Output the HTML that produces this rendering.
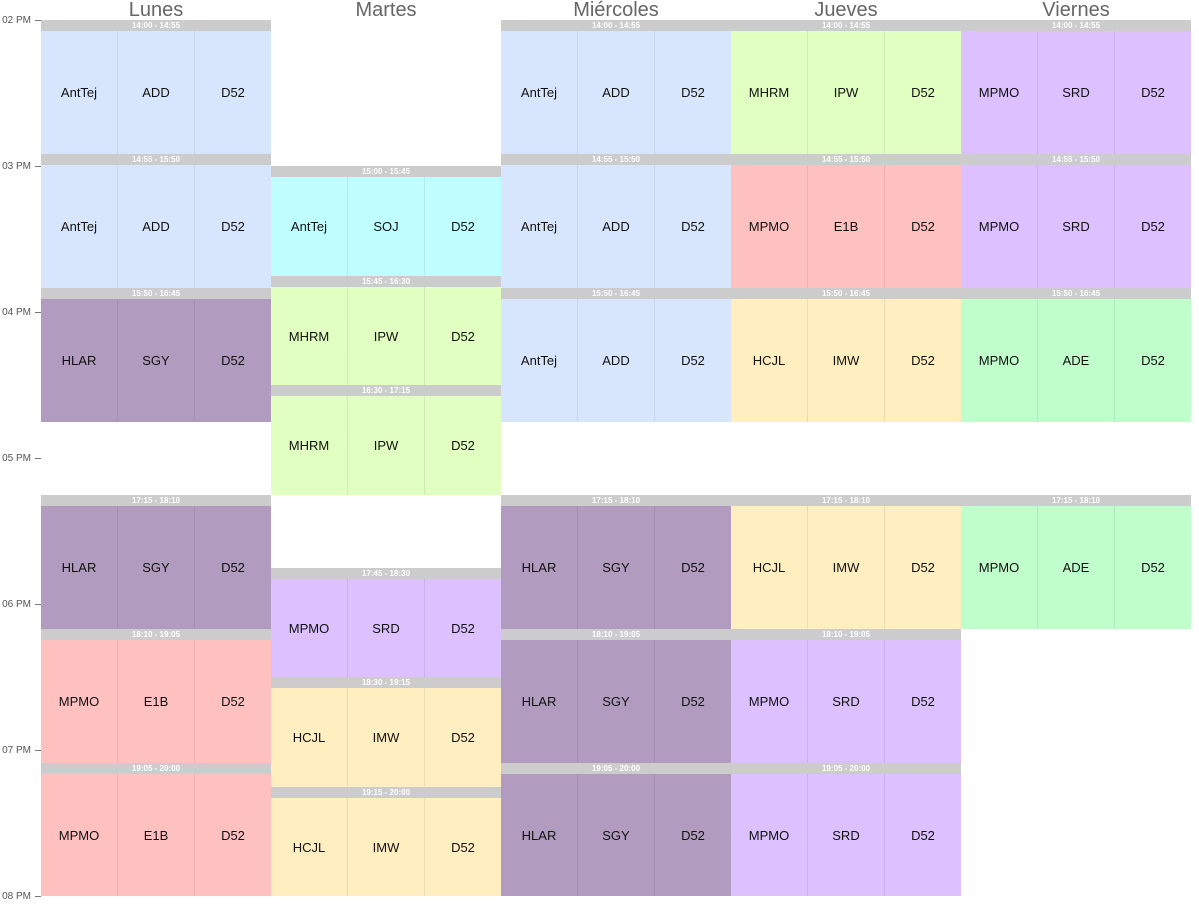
<!DOCTYPE html>
<html><head><meta charset="utf-8"><style>
body{margin:0;width:1199px;height:912px;background:#fff;position:relative;overflow:hidden;font-family:"Liberation Sans",Arial,sans-serif}
.d{position:absolute;top:-1px;width:230px;text-align:center;font-size:20px;color:#666;line-height:22px}
.t{position:absolute;left:0;width:31px;text-align:right;font-size:10px;color:#555;line-height:12px}
.k{position:absolute;left:35px;width:6px;height:1px;background:#777}
.b{position:absolute;width:230px;display:flex;flex-direction:column}
.h{height:11px;background:#ccc;color:#fff;font-size:8px;font-weight:bold;text-align:center;line-height:11px;flex:none}
.r{flex:1;display:flex}
.r div{flex:1;display:flex;align-items:center;justify-content:center;font-size:13px;color:#111;border-left:1px solid rgba(0,0,0,.08)}
.r div:first-child{border-left:none}
.bl .r{background:#d8e6fd}.cy .r{background:#c0ffff}.li .r{background:#e0ffc0}.pu .r{background:#dcc0ff}
.pk .r{background:#ffc0c0}.ma .r{background:#b19cbf}.ye .r{background:#ffeec0}.gr .r{background:#c0ffcc}
</style></head><body>
<div class="d" style="left:41px">Lunes</div><div class="d" style="left:271px">Martes</div><div class="d" style="left:501px">Miércoles</div><div class="d" style="left:731px">Jueves</div><div class="d" style="left:961px">Viernes</div>
<div class="t" style="top:15px">02 PM</div><div class="k" style="top:20px"></div>
<div class="t" style="top:161px">03 PM</div><div class="k" style="top:166px"></div>
<div class="t" style="top:307px">04 PM</div><div class="k" style="top:312px"></div>
<div class="t" style="top:453px">05 PM</div><div class="k" style="top:458px"></div>
<div class="t" style="top:599px">06 PM</div><div class="k" style="top:604px"></div>
<div class="t" style="top:745px">07 PM</div><div class="k" style="top:750px"></div>
<div class="t" style="top:891px">08 PM</div><div class="k" style="top:896px"></div>

<!-- Lunes -->
<div class="b bl" style="left:41px;top:20px;height:134px"><div class="h">14:00 - 14:55</div><div class="r"><div>AntTej</div><div>ADD</div><div>D52</div></div></div>
<div class="b bl" style="left:41px;top:154px;height:134px"><div class="h">14:55 - 15:50</div><div class="r"><div>AntTej</div><div>ADD</div><div>D52</div></div></div>
<div class="b ma" style="left:41px;top:288px;height:134px"><div class="h">15:50 - 16:45</div><div class="r"><div>HLAR</div><div>SGY</div><div>D52</div></div></div>
<div class="b ma" style="left:41px;top:495px;height:134px"><div class="h">17:15 - 18:10</div><div class="r"><div>HLAR</div><div>SGY</div><div>D52</div></div></div>
<div class="b pk" style="left:41px;top:629px;height:134px"><div class="h">18:10 - 19:05</div><div class="r"><div>MPMO</div><div>E1B</div><div>D52</div></div></div>
<div class="b pk" style="left:41px;top:763px;height:133px"><div class="h">19:05 - 20:00</div><div class="r"><div>MPMO</div><div>E1B</div><div>D52</div></div></div>
<!-- Martes -->
<div class="b cy" style="left:271px;top:166px;height:110px"><div class="h">15:00 - 15:45</div><div class="r"><div>AntTej</div><div>SOJ</div><div>D52</div></div></div>
<div class="b li" style="left:271px;top:276px;height:109px"><div class="h">15:45 - 16:30</div><div class="r"><div>MHRM</div><div>IPW</div><div>D52</div></div></div>
<div class="b li" style="left:271px;top:385px;height:110px"><div class="h">16:30 - 17:15</div><div class="r"><div>MHRM</div><div>IPW</div><div>D52</div></div></div>
<div class="b pu" style="left:271px;top:568px;height:109px"><div class="h">17:45 - 18:30</div><div class="r"><div>MPMO</div><div>SRD</div><div>D52</div></div></div>
<div class="b ye" style="left:271px;top:677px;height:110px"><div class="h">18:30 - 19:15</div><div class="r"><div>HCJL</div><div>IMW</div><div>D52</div></div></div>
<div class="b ye" style="left:271px;top:787px;height:109px"><div class="h">19:15 - 20:00</div><div class="r"><div>HCJL</div><div>IMW</div><div>D52</div></div></div>
<!-- Miércoles -->
<div class="b bl" style="left:501px;top:20px;height:134px"><div class="h">14:00 - 14:55</div><div class="r"><div>AntTej</div><div>ADD</div><div>D52</div></div></div>
<div class="b bl" style="left:501px;top:154px;height:134px"><div class="h">14:55 - 15:50</div><div class="r"><div>AntTej</div><div>ADD</div><div>D52</div></div></div>
<div class="b bl" style="left:501px;top:288px;height:134px"><div class="h">15:50 - 16:45</div><div class="r"><div>AntTej</div><div>ADD</div><div>D52</div></div></div>
<div class="b ma" style="left:501px;top:495px;height:134px"><div class="h">17:15 - 18:10</div><div class="r"><div>HLAR</div><div>SGY</div><div>D52</div></div></div>
<div class="b ma" style="left:501px;top:629px;height:134px"><div class="h">18:10 - 19:05</div><div class="r"><div>HLAR</div><div>SGY</div><div>D52</div></div></div>
<div class="b ma" style="left:501px;top:763px;height:133px"><div class="h">19:05 - 20:00</div><div class="r"><div>HLAR</div><div>SGY</div><div>D52</div></div></div>
<!-- Jueves -->
<div class="b li" style="left:731px;top:20px;height:134px"><div class="h">14:00 - 14:55</div><div class="r"><div>MHRM</div><div>IPW</div><div>D52</div></div></div>
<div class="b pk" style="left:731px;top:154px;height:134px"><div class="h">14:55 - 15:50</div><div class="r"><div>MPMO</div><div>E1B</div><div>D52</div></div></div>
<div class="b ye" style="left:731px;top:288px;height:134px"><div class="h">15:50 - 16:45</div><div class="r"><div>HCJL</div><div>IMW</div><div>D52</div></div></div>
<div class="b ye" style="left:731px;top:495px;height:134px"><div class="h">17:15 - 18:10</div><div class="r"><div>HCJL</div><div>IMW</div><div>D52</div></div></div>
<div class="b pu" style="left:731px;top:629px;height:134px"><div class="h">18:10 - 19:05</div><div class="r"><div>MPMO</div><div>SRD</div><div>D52</div></div></div>
<div class="b pu" style="left:731px;top:763px;height:133px"><div class="h">19:05 - 20:00</div><div class="r"><div>MPMO</div><div>SRD</div><div>D52</div></div></div>
<!-- Viernes -->
<div class="b pu" style="left:961px;top:20px;height:134px"><div class="h">14:00 - 14:55</div><div class="r"><div>MPMO</div><div>SRD</div><div>D52</div></div></div>
<div class="b pu" style="left:961px;top:154px;height:134px"><div class="h">14:55 - 15:50</div><div class="r"><div>MPMO</div><div>SRD</div><div>D52</div></div></div>
<div class="b gr" style="left:961px;top:288px;height:134px"><div class="h">15:50 - 16:45</div><div class="r"><div>MPMO</div><div>ADE</div><div>D52</div></div></div>
<div class="b gr" style="left:961px;top:495px;height:134px"><div class="h">17:15 - 18:10</div><div class="r"><div>MPMO</div><div>ADE</div><div>D52</div></div></div>
</body></html>
